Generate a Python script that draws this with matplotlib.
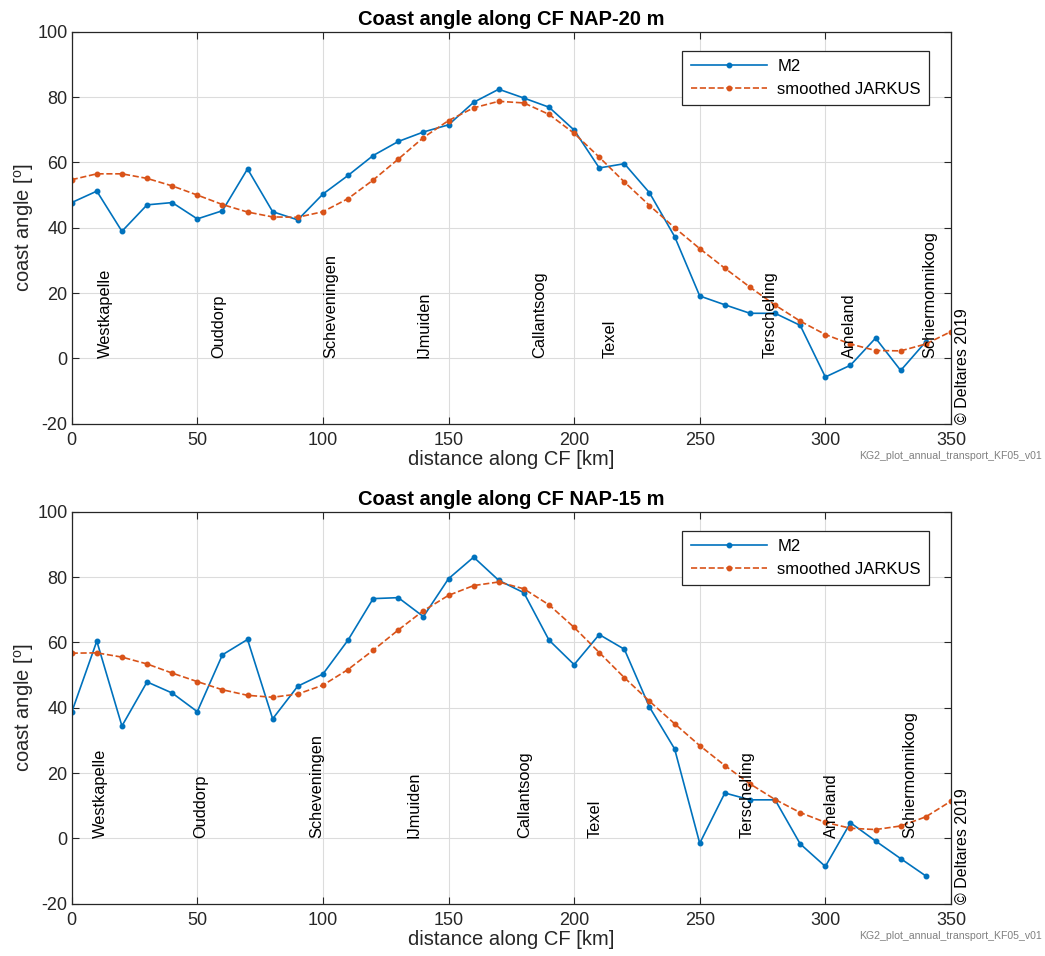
import numpy as np
import matplotlib
matplotlib.use('Agg')
import matplotlib.pyplot as plt

plt.rcParams['font.family'] = ['Liberation Sans', 'DejaVu Sans']
plt.rcParams['mathtext.fontset'] = 'custom'
plt.rcParams['mathtext.rm'] = 'Liberation Sans'
plt.rcParams['axes.unicode_minus'] = False

# distance along coast [km]
km = np.arange(0, 360, 10)

# NAP-20 m
m2_20 = [47.7, 51.2, 38.9, 47.0, 47.7, 42.7, 45.2, 58.0, 44.9, 42.4,
         50.3, 56.0, 62.1, 66.4, 69.3, 71.5, 78.4, 82.4, 79.7, 76.9,
         69.9, 58.3, 59.6, 50.7, 37.3, 19.1, 16.4, 13.8, 13.8, 10.1,
         -5.7, -2.1, 6.2, -3.7, 5.1]
jk_20 = [54.7, 56.5, 56.5, 55.1, 52.8, 50.0, 47.1, 44.8, 43.3, 43.2,
         44.9, 48.9, 54.6, 61.0, 67.6, 72.8, 76.7, 78.7, 78.2, 74.7,
         68.9, 61.6, 54.0, 46.8, 40.0, 33.6, 27.6, 21.8, 16.3, 11.4,
         7.3, 4.4, 2.4, 2.3, 4.4, 8.2]

# NAP-15 m
m2_15 = [38.6, 60.4, 34.4, 47.9, 44.5, 38.8, 56.2, 60.9, 36.6, 46.6,
         50.3, 60.7, 73.4, 73.7, 67.9, 79.5, 86.1, 79.0, 75.2, 60.7,
         53.2, 62.4, 57.9, 40.2, 27.4, -1.5, 13.9, 11.8, 11.8, -1.7,
         -8.6, 4.8, -0.8, -6.2, -11.5]
jk_15 = [56.7, 56.8, 55.5, 53.4, 50.6, 48.0, 45.5, 43.8, 43.2, 44.2,
         46.9, 51.7, 57.6, 63.8, 69.7, 74.4, 77.4, 78.5, 76.4, 71.5,
         64.6, 56.9, 49.2, 42.0, 35.1, 28.4, 22.3, 16.7, 11.9, 7.9,
         4.9, 3.1, 2.7, 3.8, 6.6, 11.4]

places = ['Westkapelle', 'Ouddorp', 'Scheveningen', 'IJmuiden', 'Callantsoog',
          'Texel', 'Terschelling', 'Ameland', 'Schiermonnikoog']
place_km_20 = [13.3, 58.4, 103.1, 140.2, 186.3, 214.3, 278.0, 309.6, 341.7]
place_km_15 = [11.3, 51.3, 97.5, 136.3, 180.4, 208.3, 268.7, 302.5, 333.7]

panels = [
    ('Coast angle along CF NAP-20 m', m2_20, jk_20, place_km_20),
    ('Coast angle along CF NAP-15 m', m2_15, jk_15, place_km_15),
]

fig = plt.figure(figsize=(10.45, 9.56), dpi=100)
axes_pos = [[0.0686, 0.5568, 0.8414, 0.410],
            [0.0686, 0.0547, 0.8414, 0.410]]
dark = '#262626'

for pos, (title, m2, jk, pkm) in zip(axes_pos, panels):
    ax = fig.add_axes(pos)
    ax.plot(km[:len(m2)], m2, '-', color='#0072BD', lw=1.2,
            marker='.', ms=6.5, label='M2')
    ax.plot(km[:len(jk)], jk, '--', color='#D95319', lw=1.2,
            marker='.', ms=6.5, label='smoothed JARKUS')
    for name, x in zip(places, pkm):
        ax.text(x, 0, name, rotation=90, ha='center', va='bottom',
                fontsize=11.8, color='black')
    ax.set_xlim(0, 350)
    ax.set_ylim(-20, 100)
    ax.set_xticks(np.arange(0, 351, 50))
    ax.set_yticks(np.arange(-20, 101, 20))
    ax.grid(True, color='#dcdcdc', lw=0.8)
    ax.tick_params(direction='in', top=True, right=True, length=5,
                   labelsize=13, colors=dark)
    ax.tick_params(axis='x', pad=6)
    ax.tick_params(axis='y', pad=3)
    for s in ax.spines.values():
        s.set_color(dark)
        s.set_linewidth(0.9)
    ax.set_title(title, fontsize=14.5, fontweight='bold', pad=5)
    ax.set_xlabel('distance along CF [km]', fontsize=14.5, color=dark, labelpad=1)
    ax.set_ylabel('coast angle [$^\\mathrm{o}$]', fontsize=14.5, color=dark, labelpad=1)
    leg = ax.legend(loc='upper right', bbox_to_anchor=(0.9753, 0.9515),
                    borderaxespad=0, fancybox=False, fontsize=12, borderpad=0.5,
                    handlelength=4.6, handletextpad=0.6, labelspacing=0.45,
                    edgecolor=dark, framealpha=1)
    leg.get_frame().set_linewidth(0.9)
    ax.text(1.0125, 0.0, '\u00a9 Deltares 2019', transform=ax.transAxes,
            rotation=90, ha='center', va='bottom', fontsize=11.5)
    ax.text(1.103, -0.07, 'KG2_plot_annual_transport_KF05_v01',
            transform=ax.transAxes, ha='right', va='top',
            fontsize=7.6, color='#808080')

fig.savefig('out.png', dpi=100)
